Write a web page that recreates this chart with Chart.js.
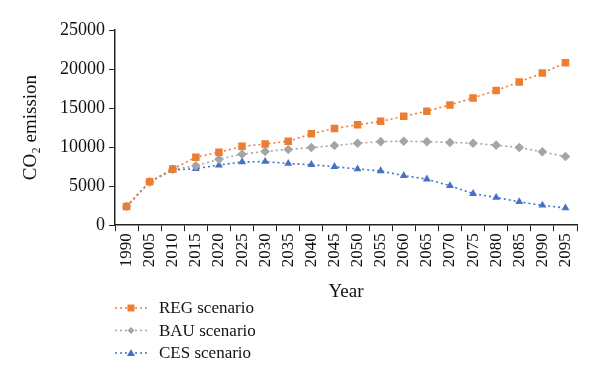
<!DOCTYPE html>
<html>
<head>
<meta charset="utf-8">
<script src="https://cdn.jsdelivr.net/npm/chart.js@4.4.0/dist/chart.umd.min.js"></script>
<style>
html,body{margin:0;padding:0;background:#fff;}
#wrap{width:600px;height:386px;position:relative;}
</style>
</head>
<body>
<div id="wrap"><canvas id="c" width="600" height="386"></canvas></div>
<script>
const years = ['1990','2005','2010','2015','2020','2025','2030','2035','2040','2045','2050','2055','2060','2065','2070','2075','2080','2085','2090','2095'];
const regValues = [2400,5550,7200,8700,9350,10100,10400,10750,11700,12400,12850,13300,13950,14600,15400,16300,17250,18350,19500,20800];
const bauValues = [2400,5550,7150,7600,8450,9100,9450,9700,9950,10200,10500,10700,10750,10700,10600,10500,10250,9950,9400,8800];
const cesValues = [2400,5550,7050,7250,7700,8100,8150,7900,7750,7500,7200,6950,6350,5900,5050,4050,3550,3000,2550,2200];
const yTicks = [0,5000,10000,15000,20000,25000];
const seriesNames = ['REG scenario','BAU scenario','CES scenario'];
const colors = ['#ED7D31','#A5A5A5','#4472C4'];

const FONT = "'Liberation Serif','Times New Roman',serif";

const legendPlugin = {
  id: 'customLegend',
  afterDraw(chart) {
    const ctx = chart.ctx;
    ctx.save();
    chart.data.datasets.forEach((ds, i) => {
      const y = 308 + i * 22.5;
      ctx.strokeStyle = ds.borderColor;
      ctx.lineWidth = 1.5;
      ctx.setLineDash([2, 3]);
      ctx.beginPath();
      ctx.moveTo(115, y);
      ctx.lineTo(148, y);
      ctx.stroke();
      ctx.setLineDash([]);
      ctx.fillStyle = ds.pointBackgroundColor;
      const cx = 131;
      ctx.beginPath();
      if (ds.pointStyle === 'rect') {
        ctx.rect(cx - 3.5, y - 3.5, 7, 7);
      } else if (ds.pointStyle === 'rectRot') {
        ctx.moveTo(cx, y - 3.5); ctx.lineTo(cx + 3.5, y); ctx.lineTo(cx, y + 3.5); ctx.lineTo(cx - 3.5, y); ctx.closePath();
      } else {
        ctx.moveTo(cx, y - 4); ctx.lineTo(cx + 4, y + 3); ctx.lineTo(cx - 4, y + 3); ctx.closePath();
      }
      ctx.fill();
      ctx.fillStyle = '#111';
      ctx.font = "17px " + FONT;
      ctx.textBaseline = 'middle';
      ctx.textAlign = 'left';
      ctx.fillText(ds.label, 159, y + 1);
    });
    ctx.restore();
  }
};

function mk(label, data, color, style, radius) {
  return {
    label, data,
    borderColor: color,
    backgroundColor: color,
    pointBackgroundColor: color,
    pointBorderColor: color,
    pointBorderWidth: 0,
    pointStyle: style,
    pointRadius: radius,
    pointHoverRadius: radius,
    borderWidth: 1.6,
    borderDash: [2, 3],
    tension: 0,
    fill: false
  };
}

new Chart(document.getElementById('c'), {
  type: 'line',
  data: {
    labels: years,
    datasets: [
      mk(seriesNames[0], regValues, colors[0], 'rect', 5.3),
      mk(seriesNames[1], bauValues, colors[1], 'rectRot', 4.8),
      mk(seriesNames[2], cesValues, colors[2], 'triangle', 4.6)
    ]
  },
  options: {
    responsive: false,
    animation: false,
    devicePixelRatio: 1,
    layout: { padding: { left: 15, right: 23, top: 30, bottom: 83 } },
    plugins: { legend: { display: false }, tooltip: { enabled: false } },
    scales: {
      x: {
        offset: true,
        grid: { display: true, drawOnChartArea: false, drawTicks: true, tickLength: 6, offset: true, color: '#222' },
        border: { display: true, color: '#222', width: 1.5 },
        ticks: { color: '#111', font: { family: FONT, size: 17 }, maxRotation: 90, minRotation: 90, autoSkip: false, padding: 2 },
        title: { display: true, text: 'Year', color: '#111', font: { family: FONT, size: 19 }, padding: { top: 11, bottom: 0 } }
      },
      y: {
        min: 0, max: 25000,
        afterBuildTicks(scale) { scale.ticks = yTicks.map(v => ({ value: v })); },
        afterFit(scale) { scale.width = 100; },
        grid: { display: true, drawOnChartArea: false, drawTicks: true, tickLength: 6, color: '#222' },
        border: { display: true, color: '#222', width: 1.5 },
        ticks: { color: '#111', font: { family: FONT, size: 18 }, padding: 4, callback: v => String(v) },
        title: { display: true, text: 'CO\u2082 emission', color: '#111', font: { family: FONT, size: 19 }, padding: { top: 5, bottom: 6 } }
      }
    }
  },
  plugins: [legendPlugin]
});
</script>
</body>
</html>
